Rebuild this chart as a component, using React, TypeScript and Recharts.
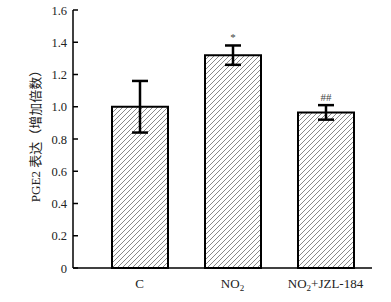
import { BarChart, Bar, XAxis, YAxis, ErrorBar, LabelList } from "recharts";

const groups = ["C", "NO2", "NO2+JZL-184"];
const means = [1.0, 1.32, 0.965];
const errs = [0.16, 0.06, 0.045];
const marks = ["", "*", "##"];
const yTicks = [0, 0.2, 0.4, 0.6, 0.8, 1.0, 1.2, 1.4, 1.6];

const FONT = "'Liberation Serif', 'Times New Roman', 'Noto Sans CJK SC', serif";

const data = groups.map((g, i) => ({
  name: g,
  value: means[i],
  err: errs[i],
  mark: marks[i],
}));

function YTick(props: any) {
  const { x, y, payload } = props;
  const v = payload.value;
  return (
    <g>
      <line x1={x + 6} x2={x + 11} y1={y} y2={y} stroke="#000" strokeWidth={1.5} />
      <text x={x} y={y} dy={4.5} textAnchor="end" fontSize={12.5} fontFamily={FONT} fill="#222">
        {v === 0 ? "0" : v.toFixed(1)}
      </text>
    </g>
  );
}

function XTick(props: any) {
  const { x, y, payload } = props;
  const s: string = payload.value;
  const parts = s.split("2");
  return (
    <text x={x} y={y} dy={12} textAnchor="middle" fontSize={13} fontFamily={FONT} fill="#222">
      {parts.length > 1 ? (
        <>
          {parts[0]}
          <tspan fontSize={9} dy={3}>2</tspan>
          <tspan dy={-3}>{parts.slice(1).join("2")}</tspan>
        </>
      ) : (
        s
      )}
    </text>
  );
}

function MarkLabel(props: any) {
  const { x, y, width, height, index } = props;
  const m = marks[index];
  if (!m) return null;
  const perUnit = height / means[index];
  const top = y - errs[index] * perUnit;
  return (
    <text x={x + width / 2} y={top - 4} textAnchor="middle" fontSize={11} fontFamily={FONT} fill="#444">
      {m}
    </text>
  );
}

function YLabel(props: any) {
  const { viewBox } = props;
  const cx = 37;
  const cy = viewBox.y + viewBox.height / 2 - 6;
  return (
    <text
      x={cx}
      y={cy}
      transform={`rotate(-90, ${cx}, ${cy})`}
      textAnchor="middle"
      dominantBaseline="middle"
      fontSize={13}
      fontFamily={FONT}
      fill="#222"
    >
      PGE2 表达（增加倍数）
    </text>
  );
}

export default function App() {
  return (
    <div style={{ position: "absolute", left: 0, top: 0, background: "#fff" }}>
      <BarChart width={391} height={302} data={data} margin={{ top: 10, right: 19, bottom: 4, left: 0 }}>
        <defs>
          <pattern id="hatch" patternUnits="userSpaceOnUse" width={5} height={5}>
            <rect width={5} height={5} fill="#fff" />
            <path d="M0,5 L5,0 M-1,1 L1,-1 M4,6 L6,4" stroke="#555" strokeWidth={0.7} />
          </pattern>
        </defs>
        <XAxis
          dataKey="name"
          height={30}
          tick={<XTick />}
          tickLine={false}
          axisLine={{ stroke: "#000", strokeWidth: 1.5 }}
          padding={{ left: 20, right: 0 }}
          interval={0}
        />
        <YAxis
          width={73}
          domain={[0, 1.6]}
          ticks={yTicks}
          tick={<YTick />}
          tickLine={false}
          tickSize={0}
          tickMargin={6}
          axisLine={{ stroke: "#000", strokeWidth: 1.5 }}
          label={<YLabel />}
        />
        <Bar dataKey="value" fill="url(#hatch)" stroke="#000" strokeWidth={2} barSize={56} isAnimationActive={false}>
          <ErrorBar dataKey="err" stroke="#000" strokeWidth={2.5} width={8} />
          <LabelList dataKey="mark" content={<MarkLabel />} />
        </Bar>
      </BarChart>
    </div>
  );
}
